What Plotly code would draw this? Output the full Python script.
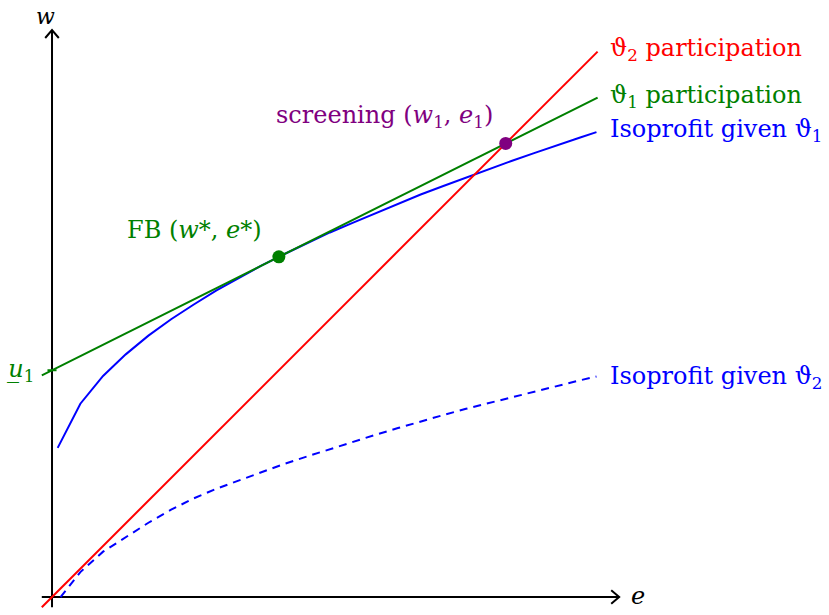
import plotly.graph_objects as go

# effort e and wage w values
e_line = [-0.18, 9.62]
w_theta2_part = [-0.18, 9.62]          # theta_2 participation: w = e
w_theta1_part = [3.91, 8.81]           # theta_1 participation, intercept u_1 = 4
u1 = 4.0

e_iso = [0.1, 0.5, 0.9, 1.3, 1.7, 2.1, 2.5, 2.9, 3.3, 3.7, 4.1, 4.5, 4.9,
         5.3, 5.7, 6.1, 6.5, 6.9, 7.3, 7.7, 8.1, 8.5, 8.9, 9.3, 9.6]
w_iso1 = [2.63, 3.41, 3.90, 4.28, 4.61, 4.90, 5.16, 5.41, 5.63, 5.85, 6.05,
          6.24, 6.43, 6.60, 6.77, 6.94, 7.10, 7.25, 7.40, 7.55, 7.69, 7.83,
          7.97, 8.10, 8.20]
e_iso2 = [0.15] + e_iso[1:]
w_iso2 = [0.00, 0.44, 0.80, 1.06, 1.31, 1.54, 1.74, 1.91, 2.06, 2.21, 2.35,
          2.48, 2.61, 2.74, 2.86, 2.98, 3.10, 3.21, 3.32, 3.42, 3.53, 3.63,
          3.72, 3.82, 3.89]

fb_point = (4.0, 6.0)
screen_point = (8.0, 8.0)

RED = "rgb(255,0,0)"
GREEN = "rgb(0,128,0)"
BLUE = "rgb(0,0,255)"
PURPLE = "rgb(128,0,128)"
FONT = "DejaVu Serif"

fig = go.Figure()

# axes with open arrow tips
axis_style = dict(color="black", width=2)
fig.add_trace(go.Scatter(x=[-0.18, 10.0], y=[0, 0], mode="lines", line=axis_style))
fig.add_trace(go.Scatter(x=[9.86, 10.0, 9.86], y=[0.12, 0, -0.12], mode="lines", line=axis_style))
fig.add_trace(go.Scatter(x=[0, 0], y=[-0.18, 10.0], mode="lines", line=axis_style))
fig.add_trace(go.Scatter(x=[-0.12, 0, 0.12], y=[9.86, 10.0, 9.86], mode="lines", line=axis_style))
# tick at u_1
fig.add_trace(go.Scatter(x=[-0.08, 0.08], y=[u1, u1], mode="lines", line=dict(color=GREEN, width=2)))

fig.add_trace(go.Scatter(x=e_iso2, y=w_iso2, mode="lines",
                         line=dict(color=BLUE, width=2, dash="8px,6px")))
fig.add_trace(go.Scatter(x=e_iso, y=w_iso1, mode="lines", line=dict(color=BLUE, width=2)))
fig.add_trace(go.Scatter(x=e_line, y=w_theta1_part, mode="lines", line=dict(color=GREEN, width=2)))
fig.add_trace(go.Scatter(x=e_line, y=w_theta2_part, mode="lines", line=dict(color=RED, width=2)))

fig.add_trace(go.Scatter(x=[fb_point[0]], y=[fb_point[1]], mode="markers",
                         marker=dict(color=GREEN, size=13)))
fig.add_trace(go.Scatter(x=[screen_point[0]], y=[screen_point[1]], mode="markers",
                         marker=dict(color=PURPLE, size=13)))

def label(x, y, text, color, xanchor="center", size=24):
    fig.add_annotation(x=x, y=y, text=text, showarrow=False, xanchor=xanchor,
                       yanchor="middle", font=dict(family=FONT, size=size, color=color))

label(9.8, 9.65, "ϑ<sub>2</sub> participation", RED, "left")
label(9.8, 8.82, "ϑ<sub>1</sub> participation", GREEN, "left")
label(9.8, 8.22, "Isoprofit given ϑ<sub>1</sub>", BLUE, "left")
label(9.8, 3.88, "Isoprofit given ϑ<sub>2</sub>", BLUE, "left")
label(2.52, 6.47, "FB (<i>w</i>*, <i>e</i>*)", GREEN)
label(5.87, 8.47, "screening (<i>w</i><sub>1</sub>, <i>e</i><sub>1</sub>)", PURPLE)
label(-0.28, 4.0, "<i>u\u0332</i><sub>1</sub>", GREEN, "right")
label(-0.12, 10.24, "<i>w</i>", "black", size=22)
label(10.33, 0.02, "<i>e</i>", "black")

fig.update_layout(
    width=829, height=615,
    margin=dict(l=0, r=0, t=0, b=0),
    plot_bgcolor="white", paper_bgcolor="white",
    showlegend=False,
    xaxis=dict(range=[-0.917, 13.70], visible=False),
    yaxis=dict(range=[-0.317, 10.53], visible=False),
)

fig.write_html("out.html")
